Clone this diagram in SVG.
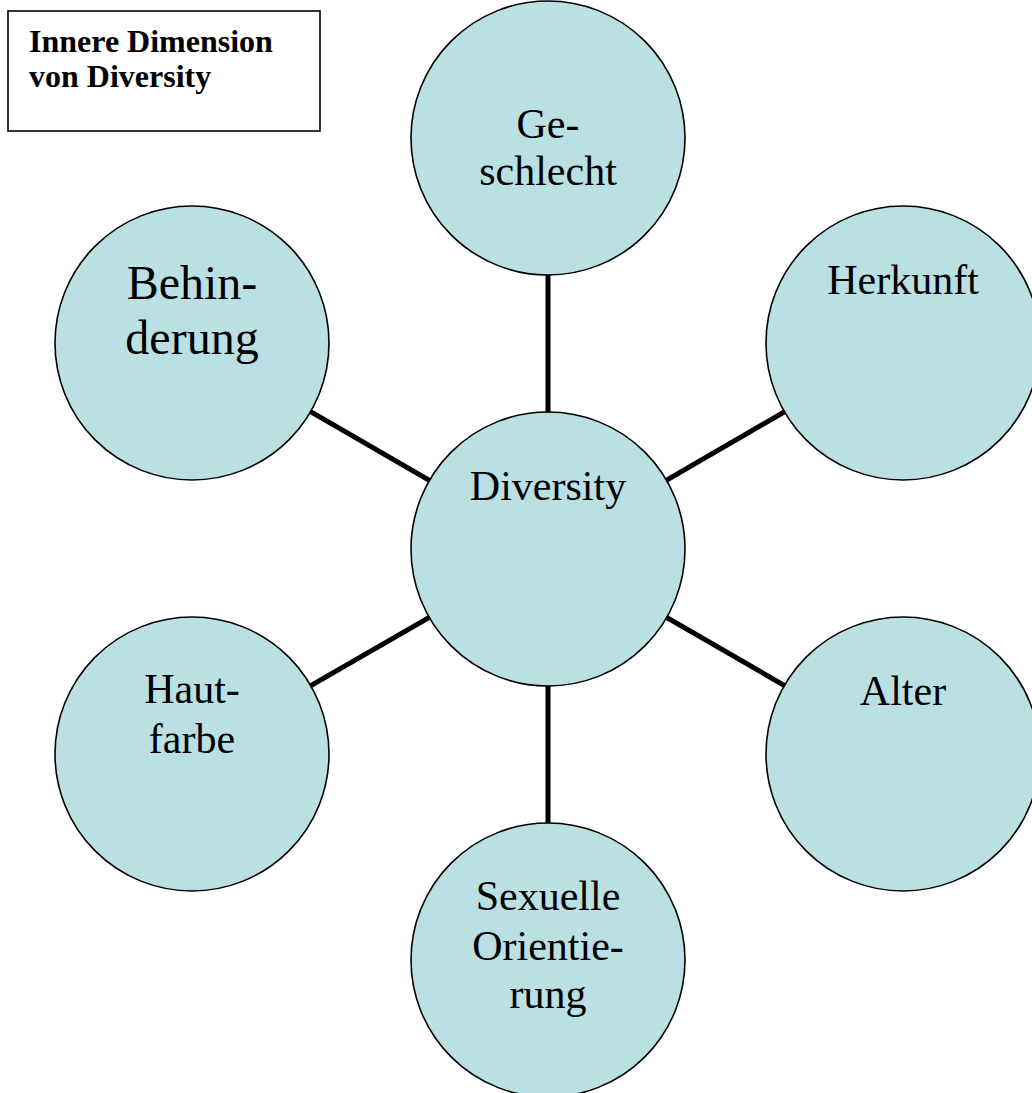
<svg xmlns="http://www.w3.org/2000/svg" width="1032" height="1093" viewBox="0 0 1032 1093">
<style>
.n{fill:#BBE0E3;stroke:#000;stroke-width:1.6}
.t{font-family:"Liberation Serif",serif;font-size:42px;fill:#000;text-anchor:middle}
.b{font-size:48px}
.h{font-family:"Liberation Serif",serif;font-size:32px;font-weight:bold;fill:#000}
.c{stroke:#000;stroke-width:5;fill:none}
</style>
<rect width="1032" height="1093" fill="#fff"/>
<g id="connectors">
<line class="c" x1="548" y1="549" x2="548" y2="138"/>
<line class="c" x1="548" y1="549" x2="903" y2="343"/>
<line class="c" x1="548" y1="549" x2="903" y2="754"/>
<line class="c" x1="548" y1="549" x2="548" y2="960"/>
<line class="c" x1="548" y1="549" x2="192" y2="754"/>
<line class="c" x1="548" y1="549" x2="192" y2="343"/>
</g>
<g id="title">
<rect x="8" y="11" width="312" height="120" fill="#fff" stroke="#000" stroke-width="1.6"/>
<text class="h" x="29" y="52">Innere Dimension</text>
<text class="h" x="29" y="87">von Diversity</text>
</g>
<g id="diversity">
<circle class="n" cx="548" cy="549" r="137"/>
<text class="t" x="548" y="500">Diversity</text>
</g>
<g id="geschlecht">
<circle class="n" cx="548" cy="138" r="137"/>
<text class="t" x="548" y="138">Ge-</text>
<text class="t" x="548" y="185">schlecht</text>
</g>
<g id="herkunft">
<circle class="n" cx="903" cy="343" r="137"/>
<text class="t" x="903" y="294">Herkunft</text>
</g>
<g id="alter">
<circle class="n" cx="903" cy="754" r="137"/>
<text class="t" x="903" y="705">Alter</text>
</g>
<g id="sexuelle">
<circle class="n" cx="548" cy="960" r="137"/>
<text class="t" x="548" y="910">Sexuelle</text>
<text class="t" x="548" y="960">Orientie-</text>
<text class="t" x="548" y="1008">rung</text>
</g>
<g id="hautfarbe">
<circle class="n" cx="192" cy="754" r="137"/>
<text class="t" x="192" y="703">Haut-</text>
<text class="t" x="192" y="753">farbe</text>
</g>
<g id="behinderung">
<circle class="n" cx="192" cy="343" r="137"/>
<text class="t b" x="192" y="299">Behin-</text>
<text class="t b" x="192" y="354">derung</text>
</g>
</svg>
